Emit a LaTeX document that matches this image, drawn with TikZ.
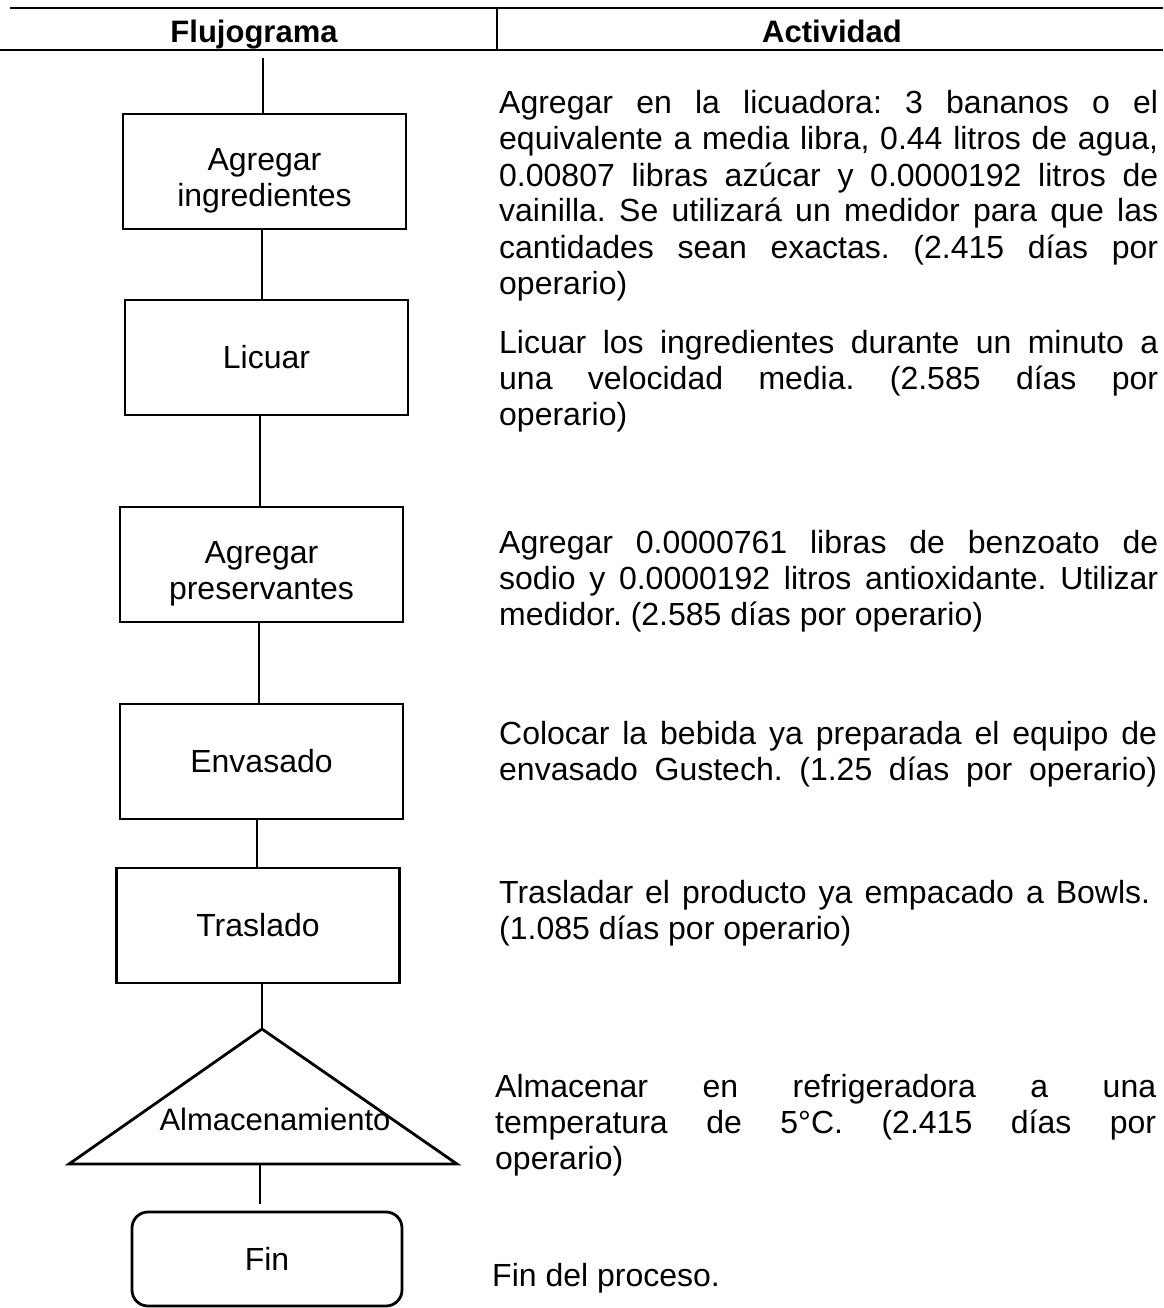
\documentclass[tikz,border=0pt]{standalone}
\usepackage{fontspec}
\setmainfont{Liberation Sans}
\frenchspacing
\newcommand\jlin[2]{\makebox[#1pt][s]{#2}}
\begin{document}
\begin{tikzpicture}[x=1pt,y=-1pt,
  box/.style={draw,line width=2.8pt,minimum width=283pt,minimum height=115pt,inner sep=0pt,align=center,font=\fontsize{32}{36}\selectfont},
  conn/.style={line width=2.4pt},
  rule/.style={line width=1.6pt},
  hdr/.style={anchor=base,inner sep=0pt,font=\fontsize{31}{35}\selectfont\bfseries},
  txt/.style={anchor=base west,inner sep=0pt,font=\fontsize{32}{36}\selectfont},
  lbl/.style={inner sep=0pt,align=center,font=\fontsize{32}{36}\selectfont}]
\useasboundingbox (0,0) rectangle (1163,1308);
% table header
\coordinate (r1a) at (10,8);   \coordinate (r1b) at (1163,8);
\coordinate (r2a) at (0,50);   \coordinate (r2b) at (1163,50);
\coordinate (vsa) at (497,8);  \coordinate (vsb) at (497,50);
\draw[rule] (r1a) -- (r1b);
\draw[rule] (r2a) -- (r2b);
\draw[rule] (vsa) -- (vsb);
\node[hdr] (h1) at (254,43) {Flujograma};
\node[hdr] (h2) at (832,43) {Actividad};
% flowchart
\coordinate (top) at (263,58);
\node[box] (b1) at (264.5,171.5) {};
\node[lbl] (b1t) at ([yshift=-9pt]b1.center) {Agregar\\ingredientes};
\node[box] (b2) at (266.5,357.5) {Licuar};
\node[box] (b3) at (261.5,564.5) {};
\node[lbl] (b3t) at ([yshift=-9pt]b3.center) {Agregar\\preservantes};
\node[box] (b4) at (261.5,761.5) {Envasado};
\node[box] (b5) at (258,925.5) {Traslado};
\coordinate (tA) at (262,1029);
\coordinate (tL) at (69,1164);
\coordinate (tR) at (457,1164);
\coordinate (tB) at (260,1164);
\draw[line width=2.8pt,line join=miter] (tA) -- (tL) -- (tR) -- cycle;
\node[lbl,anchor=base,font=\fontsize{31}{35}\selectfont] (alm) at (275,1130) {Almacenamiento};
\node[box,rounded corners=16pt,minimum width=270pt,minimum height=94pt] (fin) at (267,1259) {Fin};
% connector x positions
\coordinate (x12) at (262,0);
\coordinate (x23) at (260,0);
\coordinate (x34) at (259,0);
\coordinate (x45) at (257,0);
\coordinate (x5t) at (262,0);
\draw[conn] (top) -- (b1.north -| top);
\draw[conn] (b1.south -| x12) -- (b2.north -| x12);
\draw[conn] (b2.south -| x23) -- (b3.north -| x23);
\draw[conn] (b3.south -| x34) -- (b4.north -| x34);
\draw[conn] (b4.south -| x45) -- (b5.north -| x45);
\draw[conn] (b5.south -| x5t) -- (tA);
\draw[conn,shorten >=7pt] (tB) -- (tB |- fin.north);
% activity text
\node[txt] (p1a) at (499,114) {\jlin{659}{Agregar en la licuadora: 3 bananos o el}};
\node[txt] (p1b) at (499,150) {\jlin{659}{equivalente a media libra, 0.44 litros de agua,}};
\node[txt] (p1c) at (499,186) {\jlin{659}{0.00807 libras azúcar y 0.0000192 litros de}};
\node[txt] (p1d) at (499,222) {\jlin{659}{vainilla. Se utilizará un medidor para que las}};
\node[txt] (p1e) at (499,258) {\jlin{659}{cantidades sean exactas. (2.415 días por}};
\node[txt] (p1f) at (499,294) {operario)};
\node[txt] (p2a) at (499,353) {\jlin{659}{Licuar los ingredientes durante un minuto a}};
\node[txt] (p2b) at (499,389) {\jlin{659}{una velocidad media. (2.585 días por}};
\node[txt] (p2c) at (499,425) {operario)};
\node[txt] (p3a) at (499,553) {\jlin{659}{Agregar 0.0000761 libras de benzoato de}};
\node[txt] (p3b) at (499,589) {\jlin{659}{sodio y 0.0000192 litros antioxidante. Utilizar}};
\node[txt] (p3c) at (499,625) {medidor. (2.585 días por operario)};
\node[txt] (p4a) at (499,744) {\jlin{658}{Colocar la bebida ya preparada el equipo de}};
\node[txt] (p4b) at (499,780) {\jlin{658}{envasado Gustech. (1.25 días por operario)}};
\node[txt] (p5a) at (499,903) {\jlin{651}{Trasladar el producto ya empacado a Bowls.}};
\node[txt] (p5b) at (499,939) {(1.085 días por operario)};
\node[txt] (p6a) at (495,1097) {\jlin{661}{Almacenar en refrigeradora a una}};
\node[txt] (p6b) at (495,1133) {\jlin{661}{temperatura de 5°C. (2.415 días por}};
\node[txt] (p6c) at (495,1169) {operario)};
\node[txt] (p7) at (492,1286) {Fin del proceso.};
\end{tikzpicture}
\end{document}
